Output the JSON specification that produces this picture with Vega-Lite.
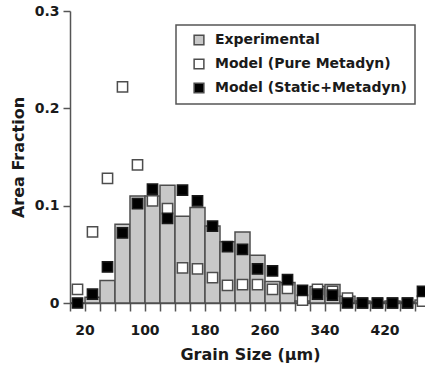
{
  "$schema": "https://vega.github.io/schema/vega-lite/v6.json",
  "width": 355,
  "height": 292,
  "autosize": {"type": "none"},
  "padding": {"left": 70, "top": 11, "right": 0, "bottom": 67},
  "background": "white",
  "config": {
    "view": {"stroke": null},
    "font": "DejaVu Sans",
    "axis": {
      "domainColor": "#555555",
      "domainWidth": 1.5,
      "tickColor": "#555555",
      "tickWidth": 1.5,
      "labelFont": "DejaVu Sans",
      "labelFontWeight": "bold",
      "labelFontSize": 14,
      "labelColor": "#1a1a1a",
      "titleFont": "DejaVu Sans",
      "titleFontWeight": "bold",
      "titleFontSize": 16,
      "titleColor": "#1a1a1a",
      "grid": false
    },
    "legend": {"strokeWidth": 1.5}
  },
  "data": {
    "values": [
      {"size": 20, "series": "Experimental", "value": 0.0},
      {"size": 40, "series": "Experimental", "value": 0.006},
      {"size": 60, "series": "Experimental", "value": 0.023},
      {"size": 80, "series": "Experimental", "value": 0.081},
      {"size": 100, "series": "Experimental", "value": 0.110},
      {"size": 120, "series": "Experimental", "value": 0.110},
      {"size": 140, "series": "Experimental", "value": 0.121},
      {"size": 160, "series": "Experimental", "value": 0.089},
      {"size": 180, "series": "Experimental", "value": 0.098},
      {"size": 200, "series": "Experimental", "value": 0.079},
      {"size": 220, "series": "Experimental", "value": 0.063},
      {"size": 240, "series": "Experimental", "value": 0.073},
      {"size": 260, "series": "Experimental", "value": 0.049},
      {"size": 280, "series": "Experimental", "value": 0.022},
      {"size": 300, "series": "Experimental", "value": 0.021},
      {"size": 320, "series": "Experimental", "value": 0.002},
      {"size": 340, "series": "Experimental", "value": 0.017},
      {"size": 360, "series": "Experimental", "value": 0.019},
      {"size": 380, "series": "Experimental", "value": 0.007},
      {"size": 400, "series": "Experimental", "value": 0.002},
      {"size": 420, "series": "Experimental", "value": 0.001},
      {"size": 440, "series": "Experimental", "value": 0.002},
      {"size": 460, "series": "Experimental", "value": 0.001},
      {"size": 480, "series": "Experimental", "value": 0.003},
      {"size": 20, "series": "Model (Pure Metadyn)", "value": 0.014},
      {"size": 40, "series": "Model (Pure Metadyn)", "value": 0.073},
      {"size": 60, "series": "Model (Pure Metadyn)", "value": 0.128},
      {"size": 80, "series": "Model (Pure Metadyn)", "value": 0.222},
      {"size": 100, "series": "Model (Pure Metadyn)", "value": 0.142},
      {"size": 120, "series": "Model (Pure Metadyn)", "value": 0.105},
      {"size": 140, "series": "Model (Pure Metadyn)", "value": 0.097},
      {"size": 160, "series": "Model (Pure Metadyn)", "value": 0.036},
      {"size": 180, "series": "Model (Pure Metadyn)", "value": 0.035},
      {"size": 200, "series": "Model (Pure Metadyn)", "value": 0.026},
      {"size": 220, "series": "Model (Pure Metadyn)", "value": 0.018},
      {"size": 240, "series": "Model (Pure Metadyn)", "value": 0.019},
      {"size": 260, "series": "Model (Pure Metadyn)", "value": 0.019},
      {"size": 280, "series": "Model (Pure Metadyn)", "value": 0.014},
      {"size": 300, "series": "Model (Pure Metadyn)", "value": 0.015},
      {"size": 320, "series": "Model (Pure Metadyn)", "value": 0.003},
      {"size": 340, "series": "Model (Pure Metadyn)", "value": 0.014},
      {"size": 360, "series": "Model (Pure Metadyn)", "value": 0.012},
      {"size": 380, "series": "Model (Pure Metadyn)", "value": 0.005},
      {"size": 400, "series": "Model (Pure Metadyn)", "value": 0.0},
      {"size": 420, "series": "Model (Pure Metadyn)", "value": 0.0},
      {"size": 440, "series": "Model (Pure Metadyn)", "value": 0.0},
      {"size": 460, "series": "Model (Pure Metadyn)", "value": 0.0},
      {"size": 480, "series": "Model (Pure Metadyn)", "value": 0.002},
      {"size": 20, "series": "Model (Static+Metadyn)", "value": 0.0},
      {"size": 40, "series": "Model (Static+Metadyn)", "value": 0.009},
      {"size": 60, "series": "Model (Static+Metadyn)", "value": 0.037},
      {"size": 80, "series": "Model (Static+Metadyn)", "value": 0.072},
      {"size": 100, "series": "Model (Static+Metadyn)", "value": 0.102},
      {"size": 120, "series": "Model (Static+Metadyn)", "value": 0.117},
      {"size": 140, "series": "Model (Static+Metadyn)", "value": 0.087},
      {"size": 160, "series": "Model (Static+Metadyn)", "value": 0.116},
      {"size": 180, "series": "Model (Static+Metadyn)", "value": 0.105},
      {"size": 200, "series": "Model (Static+Metadyn)", "value": 0.079},
      {"size": 220, "series": "Model (Static+Metadyn)", "value": 0.058},
      {"size": 240, "series": "Model (Static+Metadyn)", "value": 0.055},
      {"size": 260, "series": "Model (Static+Metadyn)", "value": 0.035},
      {"size": 280, "series": "Model (Static+Metadyn)", "value": 0.033},
      {"size": 300, "series": "Model (Static+Metadyn)", "value": 0.024},
      {"size": 320, "series": "Model (Static+Metadyn)", "value": 0.013},
      {"size": 340, "series": "Model (Static+Metadyn)", "value": 0.009},
      {"size": 360, "series": "Model (Static+Metadyn)", "value": 0.008},
      {"size": 380, "series": "Model (Static+Metadyn)", "value": 0.0},
      {"size": 400, "series": "Model (Static+Metadyn)", "value": 0.0},
      {"size": 420, "series": "Model (Static+Metadyn)", "value": 0.0},
      {"size": 440, "series": "Model (Static+Metadyn)", "value": 0.0},
      {"size": 460, "series": "Model (Static+Metadyn)", "value": 0.0},
      {"size": 480, "series": "Model (Static+Metadyn)", "value": 0.012}
    ]
  },
  "encoding": {
    "x": {
      "field": "size",
      "type": "ordinal",
      "scale": {"range": [0, 360], "paddingInner": 0, "paddingOuter": 0},
      "axis": {
        "title": "Grain Size (μm)",
        "bandPosition": 0,
        "labelOffset": 7.5,
        "labelAngle": 0,
        "tickSize": 8,
        "labelPadding": 12,
        "titlePadding": 9,
        "labelOverlap": false,
        "labelBound": false,
        "labelFlush": false,
        "labelExpr": "indexof(['20','100','180','260','340','420'], datum.label) >= 0 ? datum.label : ''"
      }
    },
    "y": {
      "field": "value",
      "type": "quantitative",
      "scale": {"domain": [0, 0.3], "nice": false, "zero": true},
      "axis": {
        "title": "Area Fraction",
        "values": [0, 0.1, 0.2, 0.3],
        "format": "~g",
        "tickSize": 7,
        "labelPadding": 4,
        "titlePadding": 8,
        "labelFlush": false
      }
    },
    "fill": {
      "field": "series",
      "type": "nominal",
      "scale": {
        "domain": ["Experimental", "Model (Pure Metadyn)", "Model (Static+Metadyn)"],
        "range": ["#c8c8c8", "#ffffff", "#000000"]
      },
      "legend": {
        "title": null,
        "orient": "none",
        "legendX": 106,
        "legendY": 14,
        "direction": "vertical",
        "symbolType": "square",
        "symbolSize": 95,
        "symbolOpacity": 1,
        "symbolStrokeColor": "#4d4d4d",
        "symbolStrokeWidth": 1.5,
        "symbolOffset": 8,
        "labelFont": "DejaVu Sans",
        "labelFontWeight": "bold",
        "labelFontSize": 14,
        "labelColor": "#1a1a1a",
        "labelOffset": 9,
        "labelLimit": 400,
        "rowPadding": 8,
        "padding": 8,
        "strokeColor": "#555555",
        "fillColor": "#ffffff"
      }
    }
  },
  "layer": [
    {
      "transform": [{"filter": "datum.series == 'Experimental'"}],
      "mark": {"type": "bar", "stroke": "#4d4d4d", "strokeWidth": 1.5}
    },
    {
      "transform": [{"filter": "datum.series == 'Model (Pure Metadyn)'"}],
      "mark": {"type": "point", "shape": "square", "filled": true, "size": 105, "opacity": 1, "stroke": "#4d4d4d", "strokeWidth": 1.5}
    },
    {
      "transform": [{"filter": "datum.series == 'Model (Static+Metadyn)'"}],
      "mark": {"type": "point", "shape": "square", "filled": true, "size": 105, "opacity": 1, "stroke": "#1a1a1a", "strokeWidth": 1.5}
    },
    {
      "data": {"values": [{}]},
      "mark": {"type": "rule", "color": "#555555", "strokeWidth": 1.5},
      "encoding": {
        "x": null,
        "fill": null,
        "y": {"datum": 0.3, "type": "quantitative"}
      }
    }
  ]
}
